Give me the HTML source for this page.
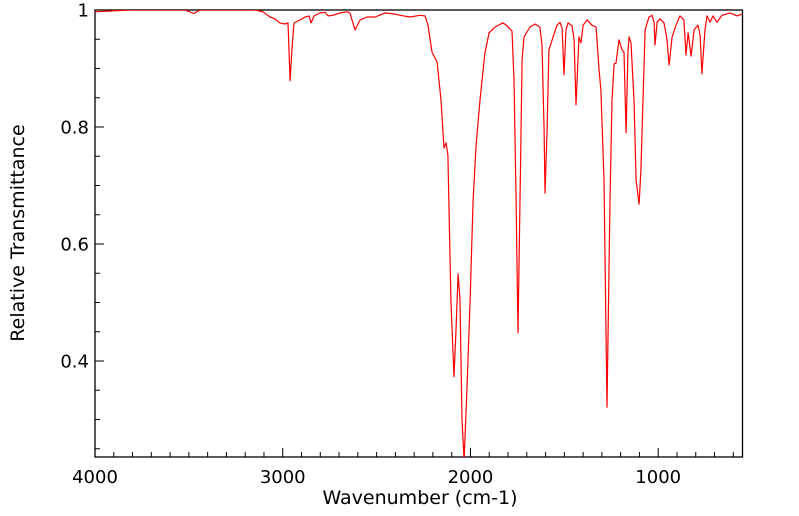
<!DOCTYPE html>
<html><head><meta charset="utf-8"><style>
html,body{margin:0;padding:0;background:#fff;}
svg{display:block;font-family:"DejaVu Sans","Liberation Sans",sans-serif;}
</style></head><body>
<svg id="chart" width="799" height="516" viewBox="0 0 799 516">
<g id="axes"></g>
<g id="plot"></g>
<text x="420" y="504" font-size="19" text-anchor="middle">Wavenumber (cm-1)</text>
<text transform="translate(24,233) rotate(-90)" font-size="19" text-anchor="middle">Relative Transmittance</text>
</svg>
<script>
const wavenumbers=[4000,3814,3521,3473,3441,3148,3105,3068,3041,3015,2988,2972,2961,2951,2940,2908,2881,2860,2849,2833,2801,2775,2759,2732,2695,2658,2642,2615,2588,2551,2508,2455,2402,2375,2322,2269,2242,2226,2205,2178,2157,2141,2130,2120,2104,2088,2077,2066,2056,2045,2034,2018,2002,1986,1970,1949,1923,1901,1869,1827,1805,1779,1768,1757,1747,1736,1725,1715,1683,1656,1630,1619,1608,1603,1592,1582,1560,1539,1523,1512,1502,1491,1480,1459,1448,1438,1427,1422,1411,1400,1379,1353,1331,1315,1305,1289,1273,1257,1246,1235,1225,1209,1193,1182,1171,1161,1155,1145,1129,1118,1102,1092,1081,1070,1049,1033,1022,1017,1006,990,969,953,942,926,905,884,863,852,841,825,809,788,777,767,751,740,724,708,687,660,617,580,553];
const transmittance=[.997,1,1,.994,1,1,.997,.988,.985,.978,.976,.978,.879,.932,.978,.983,.988,.990,.978,.990,.995,.996,.990,.991,.995,.997,.995,.966,.983,.988,.988,.995,.993,.991,.988,.991,.990,.974,.928,.911,.846,.764,.773,.752,.504,.373,.453,.549,.504,.299,.23,.359,.504,.675,.769,.846,.926,.961,.971,.978,.973,.964,.880,.675,.448,.675,.915,.954,.971,.976,.971,.940,.795,.687,.795,.932,.954,.974,.979,.969,.889,.966,.978,.973,.949,.838,.915,.954,.944,.974,.983,.974,.971,.897,.863,.709,.321,.675,.846,.908,.909,.949,.932,.928,.790,.932,.954,.944,.846,.709,.668,.726,.846,.966,.988,.991,.979,.940,.979,.985,.978,.949,.906,.954,.974,.990,.983,.923,.961,.921,.966,.974,.957,.891,.966,.990,.979,.990,.979,.991,.995,.990,.993];
const xTickLabels=[4000,3000,2000,1000];
const yTickLabels=[1,0.8,0.6,0.4];
const L=95,R=742.5,T=10,B=457;
const xMax=4000,xMin=551,yMax=1,yMin=0.2359;
function sx(w){return L+(xMax-w)/(xMax-xMin)*(R-L);}
function sy(v){return T+(yMax-v)/(yMax-yMin)*(B-T);}
const NS="http://www.w3.org/2000/svg";
const axes=document.getElementById('axes'),plot=document.getElementById('plot');
function mk(tag,attrs,parent){const e=document.createElementNS(NS,tag);for(const k in attrs)e.setAttribute(k,attrs[k]);parent.appendChild(e);return e;}
const frame=mk('rect',{x:L,y:T,width:R-L,height:B-T,fill:'none',stroke:'#000','stroke-width':1.3},axes);


for(let w=4000;w>=600;w-=100){
  const major=w%1000===0;const x=sx(w);
  const t=mk('line',{x1:x,x2:x,y1:B,y2:B-(major?9:5),stroke:'#000','stroke-width':1},axes);
  
  
}
xTickLabels.forEach(v=>{const t=mk('text',{x:sx(v),y:483,'font-size':18,'text-anchor':'middle'},axes);t.textContent=v;
  
  });
for(let i=0;i<=15;i++){
  const v=1-i*0.05;if(v<yMin)break;const major=i%4===0;const y=sy(v);
  const t=mk('line',{x1:L,x2:L+(major?9:5),y1:y,y2:y,stroke:'#000','stroke-width':1},axes);
  
  
}
yTickLabels.forEach(v=>{const t=mk('text',{x:89,y:sy(v)+6.5,'font-size':18,'text-anchor':'end'},axes);t.textContent=v;
  
  });
const clip=mk('clipPath',{id:'clp'},plot);mk('rect',{x:L,y:T,width:R-L,height:B-T},clip);
const pts=wavenumbers.map((w,i)=>sx(w).toFixed(1)+','+sy(transmittance[i]).toFixed(1)).join(' ');
const line=mk('polyline',{points:pts,fill:'none',stroke:'#ff0000','stroke-width':1.2,'stroke-linejoin':'round','clip-path':'url(#clp)'},plot);


</script>
</body></html>
